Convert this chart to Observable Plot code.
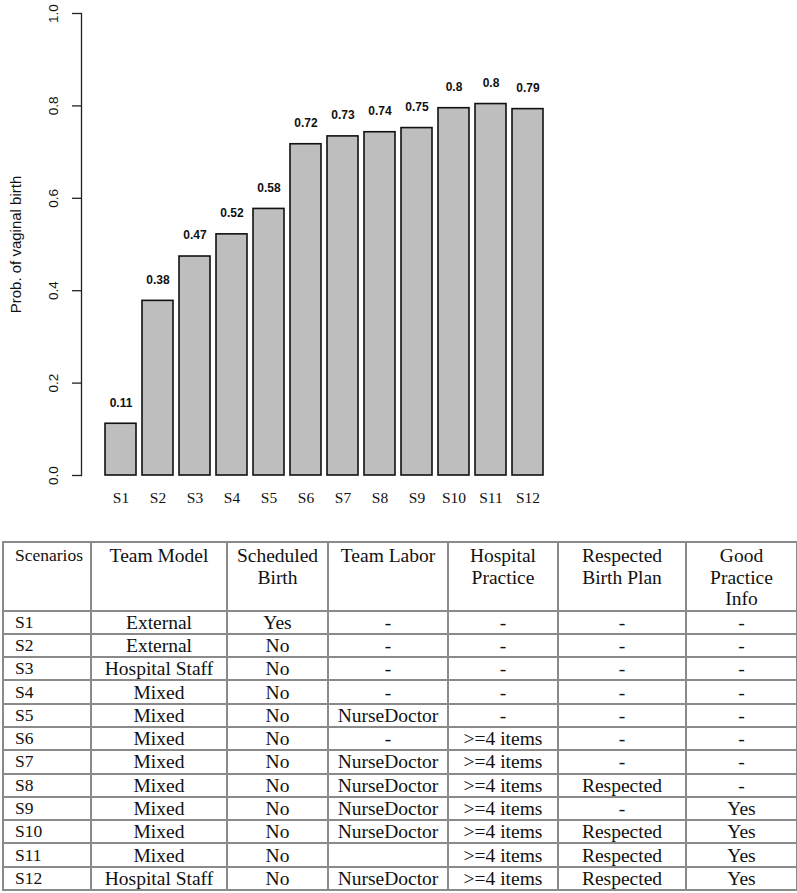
<!DOCTYPE html>
<html>
<head>
<meta charset="utf-8">
<script src="https://cdn.jsdelivr.net/npm/d3@7"></script>
<script src="https://cdn.jsdelivr.net/npm/@observablehq/plot@0.6"></script>
<style>
  html, body { margin: 0; padding: 0; background: #fff; }
  #chart svg { display: block; overflow: visible; }
  table {
    margin-left: 2px;
    border-collapse: collapse;
    table-layout: fixed;
    width: 794px;
    font-family: "Liberation Serif", "Times New Roman", serif;
    font-size: 19.5px;
    color: #111;
  }
  td, th {
    border: 2px solid #8a8a8a;
    padding: 0;
    font-weight: normal;
    text-align: center;
    line-height: 21px;
    overflow: hidden;
    white-space: nowrap;
  }
  thead th { vertical-align: top; height: 64px; padding-top: 2px; line-height: 21.5px; }
  tbody td { height: 21.3px; }
  td.sc, th.sc { text-align: left; padding-left: 11px; font-size: 17.5px; }
</style>
</head>
<body>
<div id="chart"></div>
<div id="table"></div>
<script>
const scenarios = ["S1","S2","S3","S4","S5","S6","S7","S8","S9","S10","S11","S12"];
const probs = [0.112, 0.378, 0.474, 0.522, 0.577, 0.717, 0.734, 0.743, 0.752, 0.795, 0.804, 0.793];
const probLabels = ["0.11","0.38","0.47","0.52","0.58","0.72","0.73","0.74","0.75","0.8","0.8","0.79"];
const yTicks = [0, 0.2, 0.4, 0.6, 0.8, 1.0];
const yTitle = "Prob. of vaginal birth";

const columns = [["Scenarios"], ["Team Model"], ["Scheduled", "Birth"], ["Team Labor"], ["Hospital", "Practice"], ["Respected", "Birth Plan"], ["Good", "Practice", "Info"]];
const columnWidths = [88, 136, 101, 120, 110, 128, 111];
const teamModel = ["External","External","Hospital Staff","Mixed","Mixed","Mixed","Mixed","Mixed","Mixed","Mixed","Mixed","Hospital Staff"];
const scheduledBirth = ["Yes","No","No","No","No","No","No","No","No","No","No","No"];
const teamLabor = ["-","-","-","-","NurseDoctor","-","NurseDoctor","NurseDoctor","NurseDoctor","NurseDoctor","","NurseDoctor"];
const hospitalPractice = ["-","-","-","-","-",">=4 items",">=4 items",">=4 items",">=4 items",">=4 items",">=4 items",">=4 items"];
const birthPlan = ["-","-","-","-","-","-","-","Respected","-","Respected","Respected","Respected"];
const goodPracticeInfo = ["-","-","-","-","-","-","-","-","Yes","Yes","Yes","Yes"];

const data = scenarios.map((s, i) => ({s, p: probs[i], label: probLabels[i]}));

const chart = Plot.plot({
  width: 797,
  height: 541,
  marginTop: 13,
  marginBottom: 66,
  marginLeft: 81,
  marginRight: 230,
  style: {fontFamily: "'Liberation Sans', Arial, sans-serif", color: "#111", background: "#fff"},
  x: {domain: scenarios, paddingInner: 0.15, paddingOuter: 0.5, label: null},
  y: {domain: [0, 1], label: null},
  marks: [
    Plot.frame({anchor: "left", stroke: "#222", strokeWidth: 1.3}),
    Plot.barY(data, {x: "s", y: "p", fill: "#bebebe", stroke: "#111", strokeWidth: 1.6}),
    Plot.text(data, {x: "s", y: "p", text: "label", dy: -21, fontSize: 12, fontWeight: "bold", fill: "#111"}),
    Plot.axisY({ticks: yTicks, tickSize: 9, tickFormat: () => "", stroke: "#222", strokeWidth: 1.3,
      label: yTitle, labelAnchor: "center", labelOffset: 71, labelArrow: "none", fontSize: 15}),
    Plot.text(yTicks, {y: d => d, text: d => d3.format(".1f")(d), frameAnchor: "left", textAnchor: "middle", dx: -28, rotate: -90, fontSize: 13.5, fill: "#111"}),
    Plot.axisX({tickSize: 0, tickPadding: 16, fontSize: 15.5, fontFamily: "'Liberation Serif', 'Times New Roman', serif", label: null})
  ]
});
document.getElementById("chart").appendChild(chart);

// Table
const table = document.createElement("table");
const colgroup = document.createElement("colgroup");
columnWidths.forEach(w => { const c = document.createElement("col"); c.style.width = w + "px"; colgroup.appendChild(c); });
table.appendChild(colgroup);
const thead = document.createElement("thead");
const hr = document.createElement("tr");
columns.forEach((lines, j) => {
  const th = document.createElement("th");
  lines.forEach((line, k) => {
    if (k > 0) th.appendChild(document.createElement("br"));
    th.appendChild(document.createTextNode(line));
  });
  if (j === 0) th.className = "sc";
  hr.appendChild(th);
});
thead.appendChild(hr);
table.appendChild(thead);
const tbody = document.createElement("tbody");
scenarios.forEach((s, i) => {
  const tr = document.createElement("tr");
  [s, teamModel[i], scheduledBirth[i], teamLabor[i], hospitalPractice[i], birthPlan[i], goodPracticeInfo[i]].forEach((v, j) => {
    const td = document.createElement("td");
    td.textContent = v;
    if (j === 0) td.className = "sc";
    tr.appendChild(td);
  });
  tbody.appendChild(tr);
});
table.appendChild(tbody);
document.getElementById("table").appendChild(table);
</script>
</body>
</html>
